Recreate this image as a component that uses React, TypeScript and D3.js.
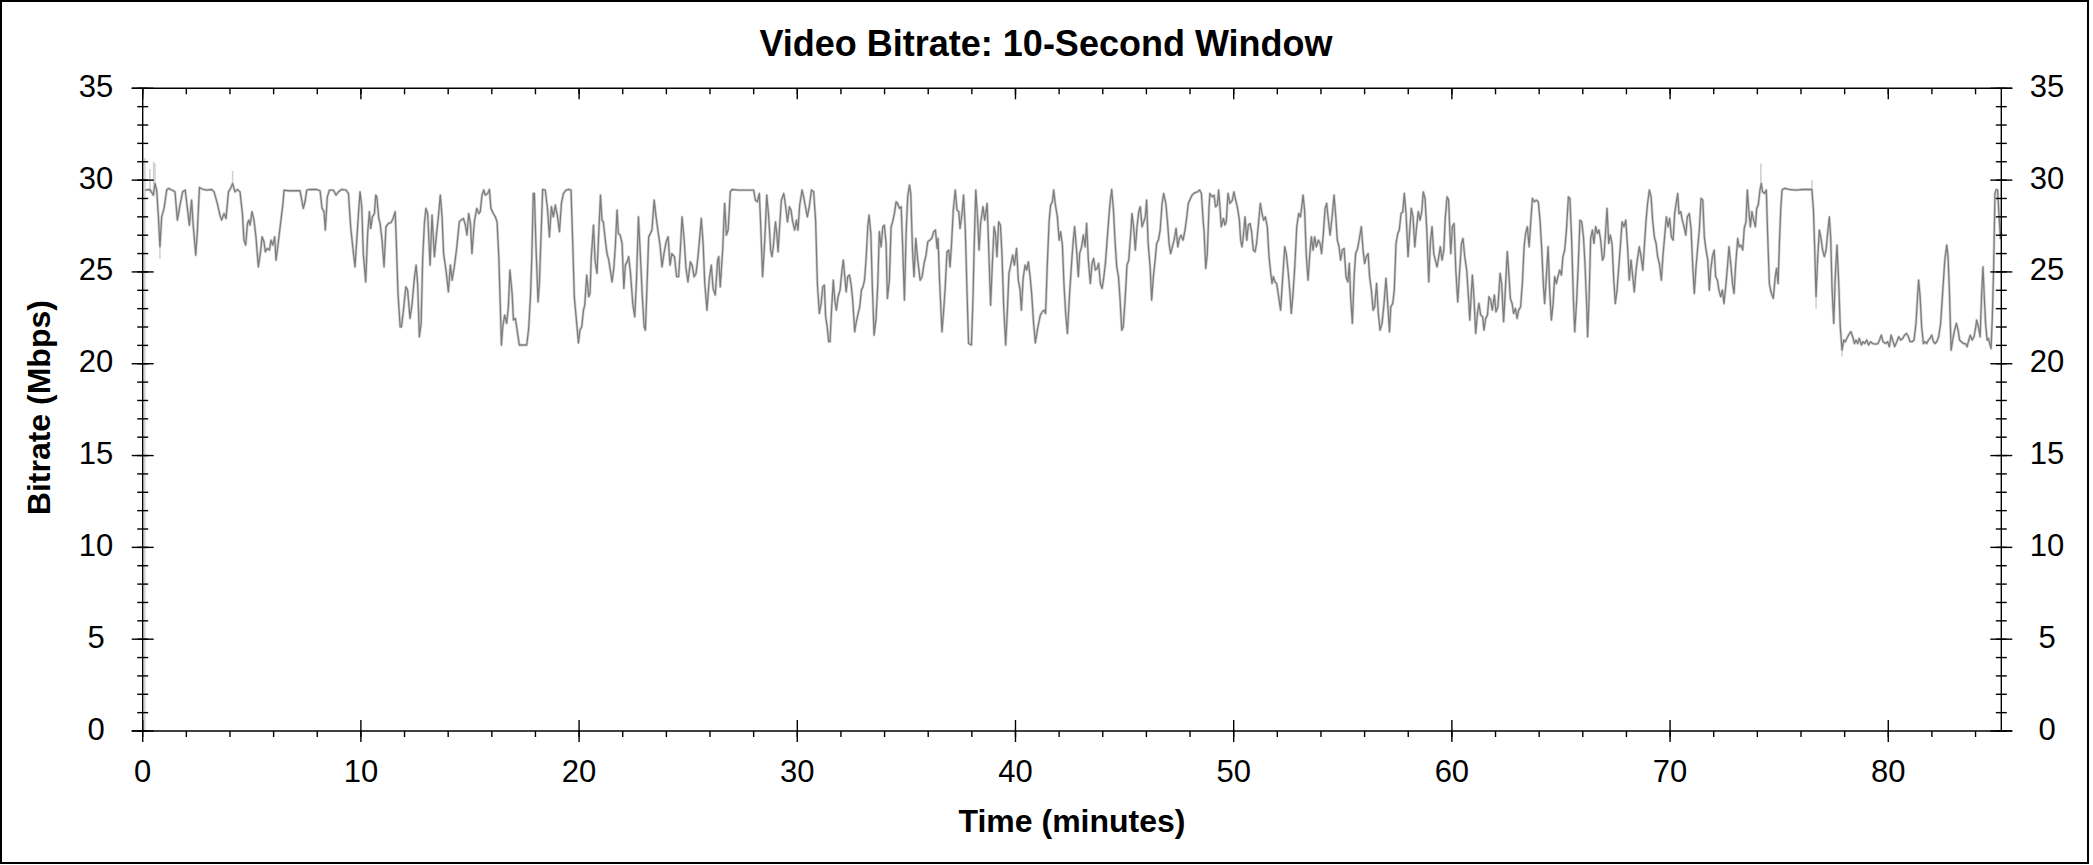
import React from "react";
import * as d3 from "d3";

const TITLE = "Video Bitrate: 10-Second Window";
const X_LABEL = "Time (minutes)";
const Y_LABEL = "Bitrate (Mbps)";

const X_DOMAIN: [number, number] = [0, 85.18];
const Y_DOMAIN: [number, number] = [0, 35];
const X_MAJOR = [0, 10, 20, 30, 40, 50, 60, 70, 80];
const X_MINOR = d3.range(0, 85, 2);
const Y_MAJOR = [0, 5, 10, 15, 20, 25, 30, 35];
const Y_MINOR = d3.range(0, 36, 1);

// [minute, Mbps] — 10-second window bitrate
const bitrateSeries: [number, number][] = [
  [0.10,29.46],[0.33,29.49],[0.49,29.18],[0.56,29.82],[0.64,29.46],[0.72,28.0],[0.79,26.37],[0.87,28.0],[0.98,28.46],[1.10,29.46],
  [1.18,29.55],[1.40,29.42],[1.48,29.36],[1.59,27.82],[1.71,28.64],[1.83,29.36],[1.95,29.46],[2.02,28.73],[2.14,27.55],[2.24,28.91],
  [2.32,27.46],[2.43,25.92],[2.50,27.1],[2.60,29.6],[2.78,29.49],[2.93,29.46],[3.16,29.49],[3.27,29.36],[3.42,28.73],[3.54,28.09],
  [3.62,27.82],[3.73,28.18],[3.82,27.91],[3.93,29.36],[4.03,29.55],[4.12,29.82],[4.23,29.36],[4.34,29.49],[4.46,29.36],[4.57,28.18],
  [4.64,26.73],[4.72,26.46],[4.80,27.64],[4.86,27.82],[4.92,27.55],[5.01,28.28],[5.10,27.82],[5.19,26.91],[5.30,25.28],[5.41,26.19],
  [5.47,26.91],[5.56,26.64],[5.62,26.1],[5.71,26.28],[5.81,26.19],[5.88,26.73],[5.96,26.46],[6.05,26.91],[6.11,25.64],[6.19,26.37],
  [6.29,27.37],[6.42,28.64],[6.48,29.46],[6.68,29.42],[6.91,29.42],[7.21,29.42],[7.29,28.91],[7.36,28.46],[7.44,28.82],[7.52,29.46],
  [7.67,29.49],[7.97,29.49],[8.13,29.42],[8.22,28.46],[8.31,28.28],[8.37,27.28],[8.46,29.09],[8.56,29.46],[8.74,29.46],[8.86,29.18],
  [8.97,29.36],[9.12,29.49],[9.32,29.46],[9.43,29.27],[9.53,27.46],[9.66,26.0],[9.73,25.28],[9.81,26.73],[9.90,28.37],[9.96,29.36],
  [10.04,28.55],[10.11,26.0],[10.22,24.46],[10.31,27.1],[10.39,28.28],[10.45,27.37],[10.53,28.0],[10.62,28.18],[10.68,29.18],[10.73,29.09],
  [10.82,27.91],[10.88,27.64],[10.97,26.73],[11.06,25.28],[11.15,27.46],[11.26,27.64],[11.37,27.68],[11.46,27.86],[11.57,28.28],[11.61,27.1],
  [11.70,23.83],[11.80,22.01],[11.86,22.01],[11.95,22.92],[12.06,24.19],
  [12.14,24.01],[12.25,22.47],[12.34,23.19],[12.45,24.65],[12.53,25.37],[12.60,24.37],[12.68,21.47],[12.76,22.2],[12.83,25.64],[12.91,27.64],
  [12.98,28.46],[13.06,28.18],[13.17,25.37],[13.26,28.09],[13.37,25.83],[13.47,27.1],[13.55,28.0],[13.64,29.18],[13.72,28.0],[13.79,26.0],
  [13.90,25.1],[14.01,23.92],[14.10,25.37],[14.18,24.55],[14.28,25.28],[14.39,26.28],[14.51,27.73],[14.59,27.82],[14.70,27.91],[14.79,27.55],
  [14.86,27.01],[14.94,28.18],[15.02,27.64],[15.09,26.0],[15.20,27.73],[15.31,28.46],[15.40,28.18],[15.47,28.28],[15.55,29.18],[15.63,29.46],
  [15.70,29.18],[15.81,29.27],[15.89,29.49],[15.96,28.46],[16.07,28.18],[16.16,28.0],[16.24,27.73],[16.32,25.83],[16.39,23.1],[16.44,21.02],
  [16.50,22.01],[16.59,22.65],[16.68,22.2],[16.76,23.1],[16.83,25.1],[16.93,23.83],[16.99,22.38],[17.08,22.47],[17.16,21.83],[17.26,21.02],
  [17.45,21.02],[17.60,21.02],[17.69,21.92],[17.77,23.65],[17.83,25.64],[17.90,29.27],[17.95,29.27],[18.03,26.19],[18.12,23.37],[18.18,24.37],
  [18.26,27.1],[18.33,29.49],[18.45,29.46],[18.55,28.46],[18.64,26.91],[18.73,28.55],[18.82,28.0],[18.91,28.64],[19.00,28.09],[19.10,27.19],
  [19.19,28.73],[19.28,29.27],[19.40,29.46],[19.52,29.49],[19.63,29.46],[19.71,26.55],[19.78,23.65],[19.89,22.2],[19.97,21.14],[20.04,21.83],
  [20.12,22.01],[20.20,22.92],[20.26,23.19],[20.35,24.83],[20.44,23.65],[20.50,23.83],[20.56,25.83],[20.66,27.55],[20.73,25.64],[20.82,24.92],
  [20.90,27.1],[20.98,29.18],[21.05,27.82],[21.11,27.73],[21.21,26.64],[21.28,26.0],[21.36,25.64],[21.43,25.1],[21.51,24.46],[21.59,25.19],
  [21.66,26.37],[21.74,28.37],[21.80,27.1],[21.88,27.01],[21.97,26.55],[22.05,24.1],[22.12,25.37],[22.20,25.55],[22.27,25.83],[22.35,25.01],
  [22.46,23.28],[22.55,22.56],[22.63,24.55],[22.72,28.0],[22.79,26.37],[22.89,23.83],[22.98,22.01],[23.04,21.83],[23.10,23.83],[23.19,26.91],
  [23.27,27.1],[23.34,27.28],[23.44,28.91],[23.53,28.0],[23.62,27.19],[23.71,26.46],[23.80,25.28],[23.89,26.0],[23.99,26.64],[24.08,26.91],
  [24.17,25.37],[24.25,26.0],
  [24.37,25.83],[24.47,24.74],[24.56,24.74],[24.64,26.19],[24.72,28.0],[24.81,26.82],[24.90,25.19],[24.99,24.46],[25.10,25.55],[25.18,25.37],
  [25.27,24.74],[25.36,24.92],[25.45,25.83],[25.53,26.91],[25.60,27.91],[25.68,26.64],[25.76,24.37],[25.86,22.92],[25.97,24.65],[26.06,25.37],
  [26.14,24.1],[26.24,23.74],[26.35,25.64],[26.40,25.83],[26.47,24.19],[26.58,26.19],[26.67,28.73],[26.75,27.01],[26.83,27.28],[26.93,29.36],
  [27.01,29.49],[27.31,29.46],[27.62,29.46],[28.00,29.46],[28.08,28.91],[28.17,28.82],[28.26,29.27],[28.32,27.64],[28.41,24.74],[28.51,26.73],
  [28.60,29.18],[28.69,28.0],[28.78,26.19],[28.84,25.83],[28.90,26.37],[29.00,27.73],[29.06,27.1],[29.12,26.1],[29.18,27.28],[29.27,28.91],
  [29.38,29.27],[29.45,28.73],[29.55,27.73],[29.64,28.55],[29.71,28.37],[29.79,27.73],[29.88,27.28],[29.96,27.82],[30.03,27.28],[30.11,28.64],
  [30.22,29.46],[30.29,29.09],[30.39,28.46],[30.46,28.0],[30.55,28.55],[30.65,29.46],[30.75,29.36],[30.84,27.82],[30.92,24.37],[31.01,22.74],
  [31.09,23.28],[31.17,24.19],[31.24,24.28],[31.30,22.56],[31.36,22.1],[31.44,21.2],[31.50,21.2],[31.56,22.74],[31.65,24.55],[31.72,23.47],
  [31.79,22.92],[31.87,23.65],[31.96,24.01],[32.05,25.1],[32.11,25.64],[32.17,24.83],[32.24,23.92],[32.31,24.74],[32.39,24.83],[32.46,24.37],
  [32.54,23.47],[32.63,21.74],[32.69,22.2],[32.79,22.74],[32.86,23.1],[32.94,24.01],[33.01,24.19],[33.08,24.55],[33.15,25.64],[33.23,27.46],
  [33.29,28.09],[33.37,27.1],[33.44,24.19],[33.52,21.56],[33.61,22.47],[33.69,24.37],[33.76,27.19],[33.84,26.37],[33.92,27.46],[33.99,27.55],
  [34.07,26.55],[34.13,23.56],[34.22,24.55],[34.30,27.46],[34.37,27.73],[34.45,28.18],[34.53,28.82],[34.60,28.73],[34.68,28.46],[34.76,28.55],
  [34.83,26.37],[34.91,23.47],[34.99,27.19],[35.06,29.09],[35.14,29.73],[35.20,29.27],[35.28,26.19],[35.35,24.74],[35.43,26.82],[35.52,25.64],
  [35.63,24.55],[35.72,24.74],[35.81,25.46],[35.90,25.92],[35.98,26.64],[36.07,26.73],[36.16,26.82],[36.25,27.19],[36.33,27.28],[36.41,26.28],
  [36.45,26.82],[36.52,24.55],[36.63,21.74],[36.71,22.92],[36.78,24.19],[36.86,26.1],[36.94,26.19],[37.00,25.28],[37.07,26.55],[37.15,28.37],
  [37.24,29.46],[37.32,28.37],[37.40,28.28],[37.46,27.37],[37.55,28.18],[37.62,29.18],[37.70,27.28],[37.79,23.47],[37.85,21.1],[37.98,21.02],
  [38.05,23.47],[38.11,26.55],[38.18,29.46],[38.25,28.18],[38.33,26.19],[38.40,27.64],[38.51,28.55],[38.59,27.82],[38.70,28.73],[38.77,26.37],
  [38.86,23.19],[38.94,25.46],[39.02,27.46],[39.09,27.01],[39.15,25.83],[39.23,27.73],[39.31,27.55],[39.38,26.0],[39.46,23.1],[39.55,21.02],
  [39.63,22.92],[39.70,24.92],[39.78,25.37],[39.87,25.92],[39.95,25.37],[40.05,26.28],[40.13,24.55],[40.21,24.01],[40.27,22.92],[40.35,24.65],
  [40.44,25.37],[40.51,25.1],[40.59,25.55],[40.67,24.74],[40.74,23.83],[40.83,22.2],[40.91,21.14],[40.99,21.74],[41.06,22.2],[41.14,22.65],
  [41.23,22.83],[41.31,22.92],[41.38,22.74],[41.46,25.46],[41.54,27.73],[41.61,28.64],[41.69,28.82],[41.75,29.46],[41.83,28.64],[41.92,28.0],
  [42.00,26.73],[42.07,27.19],[42.15,26.46],[42.22,24.37],[42.30,22.74],[42.38,21.65],[42.48,23.83],[42.58,25.64],[42.65,26.73],[42.71,27.46],
  [42.80,26.19],[42.88,24.74],[42.94,26.0],[43.03,26.37],[43.11,27.01],[43.19,26.37],[43.26,27.64],[43.34,25.64],[43.43,24.37],[43.51,25.46],
  [43.58,25.73],[43.66,25.1],[43.74,25.19],[43.81,25.46],[43.89,24.37],[43.97,24.1],[44.04,24.65],[44.12,25.46],[44.20,26.73],[44.27,27.82],
  [44.33,28.73],[44.41,29.49],[44.49,28.37],[44.56,26.73],[44.64,25.28],[44.72,24.74],[44.79,23.56],[44.87,21.83],[44.94,22.01],[45.04,23.83],
  [45.11,25.37],[45.19,25.64],[45.27,26.91],[45.34,28.18],[45.42,27.37],[45.49,26.19],[45.57,27.46],[45.65,28.28],[45.72,28.55],[45.80,27.46],
  [45.88,27.73],[45.95,28.0],[46.01,28.91],[46.08,26.55],[46.17,25.28],[46.24,23.47],[46.32,24.74],[46.40,25.64],[46.47,26.55],[46.55,26.73],
  [46.63,27.28],[46.72,28.73],[46.79,29.27],[46.89,28.73],[46.96,27.82],[47.04,26.55],[47.11,26.0],[47.19,26.37],[47.27,26.73],[47.36,27.37],
  [47.44,26.37],[47.51,26.82],[47.59,27.0],[47.68,26.73],[47.77,27.28],[47.85,28.0],[47.92,28.73],[48.02,29.0],[48.09,29.18],[48.21,29.31],
  [48.34,29.36],[48.44,29.46],[48.52,29.27],[48.61,27.64],
  [48.64,27.28],[48.72,25.19],[48.79,26.0],[48.87,28.55],[48.91,29.27],[49.02,29.09],[49.10,29.18],[49.17,28.55],[49.25,28.64],[49.31,29.46],
  [49.37,28.55],[49.43,27.46],[49.53,27.91],[49.60,27.55],[49.66,27.73],[49.74,29.27],[49.83,28.73],[49.94,28.91],[50.01,29.36],[50.11,28.82],
  [50.18,28.46],[50.26,27.82],[50.32,26.73],[50.38,26.37],[50.44,26.91],[50.52,28.0],[50.60,26.73],[50.67,27.55],[50.75,27.64],[50.82,27.19],
  [50.90,26.19],[50.98,26.1],[51.05,26.55],[51.13,27.55],[51.22,28.73],[51.30,28.18],[51.37,27.82],[51.45,28.0],[51.54,27.46],[51.62,25.83],
  [51.70,24.92],[51.76,24.37],[51.82,24.74],[51.89,24.46],[51.97,24.37],[52.06,23.65],[52.15,22.92],[52.25,24.74],[52.34,26.37],[52.41,26.0],
  [52.49,25.1],[52.57,24.01],[52.64,22.74],[52.72,23.83],[52.80,25.28],[52.89,27.46],[52.98,28.18],[53.06,28.0],[53.12,28.55],[53.18,29.18],
  [53.25,28.37],[53.33,25.83],[53.41,24.55],[53.48,25.83],[53.56,26.91],[53.64,26.19],[53.71,26.91],[53.79,26.37],[53.88,26.73],[53.96,26.55],
  [54.03,26.0],[54.11,27.1],[54.19,28.46],[54.26,28.73],[54.34,27.82],[54.42,27.01],[54.51,28.0],[54.60,29.18],[54.68,28.0],[54.75,26.73],
  [54.83,26.37],[54.90,25.64],[54.98,26.19],[55.06,26.28],[55.15,24.74],[55.23,24.46],[55.30,25.46],[55.36,23.65],[55.44,22.2],[55.52,24.74],
  [55.59,26.0],[55.68,26.28],[55.76,26.82],[55.85,27.46],[55.93,26.19],[56.00,25.46],[56.08,25.83],[56.16,26.0],[56.23,24.74],[56.31,24.01],
  [56.39,22.92],[56.46,23.1],[56.55,24.37],[56.63,22.74],[56.71,21.83],[56.80,22.2],[56.89,23.28],[56.98,24.65],[57.06,23.28],[57.14,21.74],
  [57.20,23.1],[57.29,23.28],[57.36,24.01],[57.44,26.55],[57.52,27.1],[57.59,27.28],[57.67,28.18],[57.75,28.28],[57.82,29.27],[57.90,28.18],
  [57.99,25.83],[58.07,27.28],[58.14,28.46],[58.22,28.0],[58.30,26.37],[58.37,27.28],[58.46,28.28],[58.54,27.82],[58.62,28.28],[58.69,29.36],
  [58.77,29.0],[58.85,27.28],[58.94,24.46],[59.01,26.55],[59.09,27.46],[59.17,26.0],[59.24,25.64],[59.32,25.28],[59.40,25.83],[59.47,26.37],
  [59.55,25.64],[59.63,26.19],[59.70,28.0],[59.78,29.09],[59.85,28.91],[59.95,26.0],[60.02,27.46],[60.10,27.64],[60.18,25.1],[60.27,23.37],
  [60.34,24.74],[60.44,26.55],[60.51,26.82],[60.59,25.83],[60.68,25.1],[60.76,23.65],[60.82,22.38],
  [60.94,24.83],[61.01,23.65],[61.09,21.65],[61.17,22.74],[61.24,23.28],[61.32,22.65],[61.41,22.56],[61.47,21.83],[61.55,22.47],[61.63,22.65],
  [61.70,23.65],[61.78,23.47],[61.85,22.92],[61.95,23.74],[62.02,22.83],[62.11,23.1],[62.21,24.92],[62.28,24.37],[62.37,22.29],[62.45,24.01],
  [62.54,26.1],[62.62,24.74],[62.68,23.56],[62.76,23.28],[62.83,22.74],[62.91,23.01],[62.99,22.47],[63.06,22.92],[63.15,23.1],[63.23,24.37],
  [63.31,26.37],[63.38,27.1],[63.46,27.46],[63.54,26.37],[63.61,27.64],[63.69,29.0],[63.78,28.82],[63.87,28.91],[63.96,28.82],[64.04,27.82],
  [64.12,26.19],[64.19,24.37],[64.25,23.28],[64.33,24.74],[64.41,26.37],[64.48,24.01],[64.56,22.38],[64.64,23.28],[64.71,24.74],[64.79,24.37],
  [64.86,24.74],[64.94,25.1],[65.02,24.83],[65.09,25.83],[65.17,26.19],[65.25,27.28],[65.34,29.09],[65.41,29.0],[65.49,26.73],[65.57,23.47],
  [65.63,21.74],[65.72,23.47],[65.80,25.64],[65.87,27.82],[65.95,27.73],[66.03,26.91],[66.10,25.46],[66.18,23.1],[66.22,21.47],[66.29,23.65],
  [66.36,26.82],[66.44,27.28],[66.51,26.55],[66.59,27.46],[66.67,27.1],[66.74,27.28],[66.82,26.73],[66.90,25.64],[66.97,25.83],[67.05,27.28],
  [67.11,28.46],[67.19,26.55],[67.26,27.01],[67.34,26.55],[67.42,24.55],[67.49,23.28],[67.57,24.01],[67.65,25.28],[67.72,26.37],[67.80,27.73],
  [67.89,27.46],[67.97,27.82],[68.06,26.19],[68.13,24.55],[68.21,25.64],[68.29,24.74],[68.36,23.92],[68.44,25.1],[68.52,25.83],[68.59,26.37],
  [68.67,25.83],[68.75,25.1],[68.82,26.37],[68.90,27.82],[68.97,28.73],[69.05,29.46],[69.13,29.09],[69.20,27.82],[69.28,26.91],[69.36,26.55],
  [69.43,25.83],[69.51,25.46],[69.60,24.55],[69.68,26.0],[69.75,26.91],[69.83,28.0],[69.91,27.46],[69.98,27.91],[70.06,26.91],[70.14,26.73],
  [70.21,28.18],[70.29,28.82],[70.35,29.27],[70.41,28.18],[70.49,28.28],[70.56,27.82],[70.64,27.46],[70.72,27.01],[70.79,28.0],[70.88,28.18],
  [70.96,27.37],[71.04,25.28],[71.11,23.83],[71.19,25.28],[71.27,26.37],[71.34,27.28],[71.42,29.0],[71.50,28.91],[71.57,26.91],[71.65,26.19],
  [71.73,25.64],[71.80,24.01],[71.86,25.1],[71.94,25.83],[72.02,26.19],[72.09,24.74],[72.17,24.55],[72.24,24.01],[72.32,23.65],[72.40,24.01],
  [72.47,23.28],[72.55,24.19],[72.63,25.28],[72.70,26.37],[72.78,25.46],[72.86,24.37],[72.93,23.83],[73.01,25.46],
  [73.10,26.82],[73.17,26.37],[73.25,26.46],[73.33,26.19],[73.40,27.37],[73.48,27.73],[73.54,29.46],[73.60,28.46],[73.68,27.46],[73.75,28.28],
  [73.83,27.82],[73.91,27.46],[73.97,28.46],[74.04,28.64],[74.12,29.46],[74.18,29.82],[74.24,29.36],[74.33,29.27],[74.41,29.46],[74.47,27.1],
  [74.55,24.37],[74.62,23.92],[74.73,23.56],[74.82,24.74],[74.88,25.19],[74.95,24.37],[75.01,26.55],[75.07,28.37],[75.13,29.46],[75.24,29.55],
  [75.47,29.49],[75.77,29.46],[76.08,29.49],[76.31,29.49],[76.50,29.49],[76.57,28.37],[76.63,26.19],[76.69,23.65],[76.76,25.64],[76.84,27.28],
  [76.92,26.82],[76.99,26.19],[77.07,25.83],[77.15,26.19],[77.22,27.1],[77.30,28.0],[77.36,26.91],[77.42,24.19],[77.50,22.2],[77.57,24.74],
  [77.65,26.46],[77.73,24.37],[77.80,22.01],[77.88,20.74],[77.96,21.29],[78.03,21.2],[78.14,21.47],[78.22,21.65],[78.29,21.74],[78.37,21.47],
  [78.45,21.1],[78.52,21.29],[78.60,21.1],[78.67,21.38],[78.77,21.02],[78.84,21.2],[78.92,21.1],[79.01,21.29],[79.10,21.02],[79.19,21.2],
  [79.29,21.1],[79.41,21.07],[79.53,21.1],[79.61,21.32],[79.68,21.56],[79.76,21.2],[79.87,21.1],[79.97,21.2],[80.05,20.93],[80.13,21.56],
  [80.20,21.29],[80.29,20.93],[80.39,21.2],[80.48,21.47],[80.57,21.29],[80.66,21.38],[80.75,21.56],[80.84,21.65],[80.92,21.47],[81.00,21.2],
  [81.09,21.2],[81.18,21.29],[81.27,22.2],[81.35,23.83],[81.39,24.55],[81.46,23.65],[81.53,22.01],[81.61,21.1],[81.68,21.2],[81.76,21.1],
  [81.84,21.29],[81.91,21.38],[81.99,21.56],[82.07,21.2],[82.14,21.1],[82.22,21.2],[82.31,21.47],[82.40,22.2],[82.49,23.83],[82.59,25.64],
  [82.68,26.46],[82.74,25.83],[82.80,24.01],[82.88,20.74],[82.95,21.29],[83.04,21.83],[83.12,22.2],[83.20,21.83],[83.27,21.29],[83.35,21.2],
  [83.44,21.1],[83.53,21.1],[83.61,20.93],[83.69,21.29],[83.76,21.56],[83.84,21.29],[83.93,21.47],[84.01,22.01],[84.05,22.38],[84.13,22.01],
  [84.21,21.47],[84.28,23.83],[84.34,25.28],[84.40,23.65],[84.46,22.2],[84.53,21.29],[84.59,21.38],[84.65,21.1],[84.71,20.83],[84.77,22.56],
  [84.83,25.28],[84.89,29.27],[84.95,29.49],[85.01,29.46],[85.08,28.0],[85.14,26.82],[85.18,27.19],
];

// short light-grey excursions of the underlying per-second trace: [minute, low, high]
const rawExcursions: [number, number, number][] = [
  [0.10, 0, 31.2],
  [0.33, 29.3, 30.6],
  [0.50, 29.2, 31.0],
  [0.56, 29.5, 30.9],
  [0.79, 25.7, 26.5],
  [4.12, 29.6, 30.5],
  [74.16, 29.6, 30.9],
  [76.50, 29.4, 30.0],
  [76.69, 23.0, 23.8],
  [77.88, 20.4, 20.9],
];

const W = 2093;
const H = 865;
const PL = 142.7;
const PR = 2001.3;
const PT = 88.3;
const PB = 731;
const FONT = "Arial, 'Liberation Sans', Helvetica, sans-serif";

export default function App() {
  const x = d3.scaleLinear().domain(X_DOMAIN).range([PL, PR]);
  const y = d3.scaleLinear().domain(Y_DOMAIN).range([PB, PT]);
  const line = d3
    .line<[number, number]>()
    .x((d) => x(d[0]))
    .y((d) => y(d[1]));
  const path = line(bitrateSeries) || "";
  const sw = 1.4;
  const MAJ = 11;
  const MIN = 5.5;

  return (
    <svg
      width={W}
      height={H}
      viewBox={`0 0 ${W} ${H}`}
      style={{ position: "absolute", left: 0, top: 0, background: "#fff" }}
    >
      <rect x={0} y={0} width={W} height={H} fill="#fff" />
      <rect x={1} y={1} width={2087} height={862} fill="none" stroke="#000" strokeWidth={2} />

      <text x={1046} y={56} textAnchor="middle" fontFamily={FONT} fontWeight="bold" fontSize={36}>
        {TITLE}
      </text>

      {/* data */}
      <g>
        {rawExcursions.map(([m, lo, hi], i) => (
          <line key={"r" + i} x1={x(m)} x2={x(m)} y1={y(lo)} y2={y(hi)} stroke="#cfcfcf" strokeWidth={1.5} />
        ))}
        <path d={path} fill="none" stroke="#d4d4d4" strokeWidth={2.8} strokeLinejoin="round" />
        <path d={path} fill="none" stroke="#7d7d7d" strokeWidth={1.3} strokeLinejoin="round" />
      </g>

      {/* axes lines */}
      <g stroke="#000" strokeWidth={sw}>
        <line x1={PL - MAJ} x2={PR + MAJ} y1={PB} y2={PB} />
        <line x1={PL - MAJ} x2={PR + MAJ} y1={PT} y2={PT} />
        <line x1={PL} x2={PL} y1={PT} y2={PB} />
        <line x1={PR} x2={PR} y1={PT} y2={PB} />

        {X_MINOR.map((t) => (
          <g key={"xm" + t}>
            <line x1={x(t)} x2={x(t)} y1={PB} y2={PB + 6} />
            <line x1={x(t)} x2={x(t)} y1={PT} y2={PT + 6} />
          </g>
        ))}
        {X_MAJOR.map((t) => (
          <g key={"xM" + t}>
            <line x1={x(t)} x2={x(t)} y1={PB - MAJ} y2={PB + MAJ} />
            <line x1={x(t)} x2={x(t)} y1={PT} y2={PT + MAJ} />
          </g>
        ))}
        {Y_MINOR.map((t) => (
          <g key={"ym" + t}>
            <line x1={PL - MIN} x2={PL + MIN} y1={y(t)} y2={y(t)} />
            <line x1={PR - MIN} x2={PR + MIN} y1={y(t)} y2={y(t)} />
          </g>
        ))}
        {Y_MAJOR.map((t) => (
          <g key={"yM" + t}>
            <line x1={PL - MAJ} x2={PL + MAJ} y1={y(t)} y2={y(t)} />
            <line x1={PR - MAJ} x2={PR + MAJ} y1={y(t)} y2={y(t)} />
          </g>
        ))}
      </g>

      {/* tick labels */}
      <g fontFamily={FONT} fontSize={31} fill="#000">
        {X_MAJOR.map((t) => (
          <text key={"xl" + t} x={x(t)} y={782} textAnchor="middle">
            {t}
          </text>
        ))}
        {Y_MAJOR.map((t) => (
          <text key={"yl" + t} x={96} y={y(t) + 8.5} textAnchor="middle">
            {t}
          </text>
        ))}
        {Y_MAJOR.map((t) => (
          <text key={"yr" + t} x={2047} y={y(t) + 8.5} textAnchor="middle">
            {t}
          </text>
        ))}
      </g>

      <text x={(PL + PR) / 2} y={832} textAnchor="middle" fontFamily={FONT} fontWeight="bold" fontSize={32}>
        {X_LABEL}
      </text>
      <text
        transform={`translate(50, ${(PT + PB) / 2 - 2}) rotate(-90)`}
        textAnchor="middle"
        fontFamily={FONT}
        fontWeight="bold"
        fontSize={32}
      >
        {Y_LABEL}
      </text>
    </svg>
  );
}
